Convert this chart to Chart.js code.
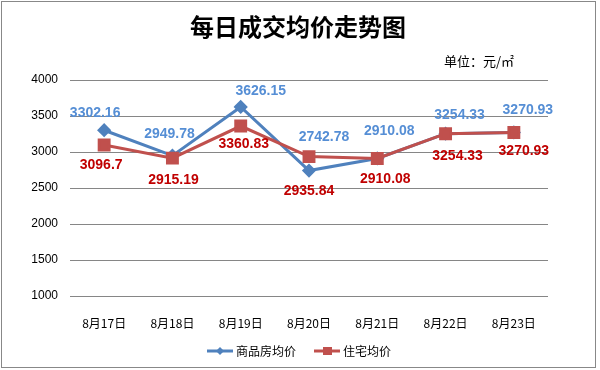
<!DOCTYPE html>
<html>
<head>
<meta charset="utf-8">
<script src="https://cdn.jsdelivr.net/npm/chart.js@4/dist/chart.umd.min.js"></script>
<style>
  html, body { margin: 0; padding: 0; background: #fff; }
  canvas { display: block; }
</style>
</head>
<body>
<canvas id="chart" width="600" height="370"></canvas>
<script>
const days = ['8月17日', '8月18日', '8月19日', '8月20日', '8月21日', '8月22日', '8月23日'];
const commercialPrice = [3302.16, 2949.78, 3626.15, 2742.78, 2910.08, 3254.33, 3270.93];
const housingPrice = [3096.7, 2915.19, 3360.83, 2935.84, 2910.08, 3254.33, 3270.93];
const yTicks = [1000, 1500, 2000, 2500, 3000, 3500, 4000];

const BLUE = '#4F81BD';
const RED = '#C0504D';
const CJK = '"Noto Sans CJK SC", sans-serif';
const LATIN = '"Liberation Sans", Arial, sans-serif';

// label nudges (dx, dy from the point), the labels were hand-placed in the original
const blueLabelShift = [[-9, -17], [-3, -21], [20, -16], [15, -33], [12, -27], [14, -19], [14, -22]];
const redLabelShift = [[-3, 20], [1, 22], [3, 18], [0, 35], [8, 21], [12, 22], [10, 19]];

// small line+marker icons for the legend
function legendIcon(color, shape) {
  const c = document.createElement('canvas');
  c.width = 39; c.height = 10;
  const g = c.getContext('2d');
  const x0 = 12;
  g.strokeStyle = color;
  g.lineWidth = 3;
  g.beginPath(); g.moveTo(x0, 5); g.lineTo(x0 + 26, 5); g.stroke();
  g.fillStyle = color;
  g.beginPath();
  if (shape === 'diamond') {
    g.moveTo(x0 + 13, 1); g.lineTo(x0 + 17, 5); g.lineTo(x0 + 13, 9); g.lineTo(x0 + 9, 5);
  } else {
    g.rect(x0 + 9, 1, 9, 8);
  }
  g.closePath(); g.fill();
  return c;
}

// value labels, title, unit and frame
const decorPlugin = {
  id: 'decor',
  afterLayout(chart) {
    // legend sits centred on the whole canvas, not on the padded area
    chart.legend.left += 11;
    chart.legend.right += 11;
  },
  afterDatasetsDraw(chart) {
    const ctx = chart.ctx;
    ctx.save();
    ctx.font = 'bold 14px ' + LATIN;
    ctx.textAlign = 'center';
    ctx.textBaseline = 'middle';
    chart.data.datasets.forEach((ds, i) => {
      const meta = chart.getDatasetMeta(i);
      const shifts = i === 0 ? blueLabelShift : redLabelShift;
      ctx.fillStyle = i === 0 ? '#558ED5' : '#C00000';
      meta.data.forEach((pt, j) => {
        ctx.fillText(String(ds.data[j]), pt.x + shifts[j][0], pt.y + shifts[j][1]);
      });
    });
    ctx.restore();
  },
  afterDraw(chart) {
    const ctx = chart.ctx;
    ctx.save();
    ctx.fillStyle = '#000';
    ctx.textAlign = 'center';
    ctx.textBaseline = 'middle';
    ctx.font = 'bold 24px ' + CJK;
    ctx.fillText('每日成交均价走势图', 298, 27);
    ctx.font = '13px ' + CJK;
    ctx.textAlign = 'left';
    ctx.fillText('单位：元/㎡', 444, 61);
    ctx.strokeStyle = '#888';
    ctx.lineWidth = 1;
    ctx.strokeRect(1.5, 1.5, 594, 366);
    ctx.restore();
  }
};

new Chart(document.getElementById('chart'), {
  type: 'line',
  data: {
    labels: days,
    datasets: [
      {
        label: '商品房均价',
        data: commercialPrice,
        borderColor: BLUE,
        backgroundColor: BLUE,
        borderWidth: 3,
        pointStyle: 'rectRot',
        pointRadius: 5,
        tension: 0,
        order: 1
      },
      {
        label: '住宅均价',
        data: housingPrice,
        borderColor: RED,
        backgroundColor: RED,
        borderWidth: 3,
        pointStyle: 'rect',
        pointRadius: 7,
        tension: 0,
        order: 0
      }
    ]
  },
  options: {
    responsive: false,
    animation: false,
    layout: { padding: { left: 20, right: 52, top: 80, bottom: 3 } },
    plugins: {
      title: { display: false },
      tooltip: { enabled: false },
      legend: {
        position: 'bottom',
        labels: {
          usePointStyle: true,
          pointStyleWidth: 31,
          boxHeight: 10,
          padding: 10,
          color: '#000',
          font: { family: CJK, size: 12 },
          sort: (a, b) => a.datasetIndex - b.datasetIndex,
          generateLabels(chart) {
            const items = Chart.defaults.plugins.legend.labels.generateLabels(chart);
            items.forEach(it => {
              it.pointStyle = it.datasetIndex === 0 ? legendIcon(BLUE, 'diamond') : legendIcon(RED, 'square');
            });
            return items;
          }
        }
      }
    },
    scales: {
      x: {
        offset: true,
        grid: { display: false, drawTicks: false },
        border: { display: false },
        ticks: { color: '#000', padding: 20, font: { family: CJK, size: 12 }, maxRotation: 0 },
        afterFit(s) { s.height = 39; }
      },
      y: {
        min: 1000,
        max: 4000,
        afterBuildTicks(s) { s.ticks = yTicks.map(v => ({ value: v })); },
        grid: { color: '#868686', drawTicks: false },
        border: { display: false },
        ticks: {
          color: '#000',
          padding: 12,
          font: { family: LATIN, size: 12 },
          callback: v => String(v)
        },
        afterFit(s) { s.width = 50; }
      }
    }
  },
  plugins: [decorPlugin]
});
</script>
</body>
</html>
